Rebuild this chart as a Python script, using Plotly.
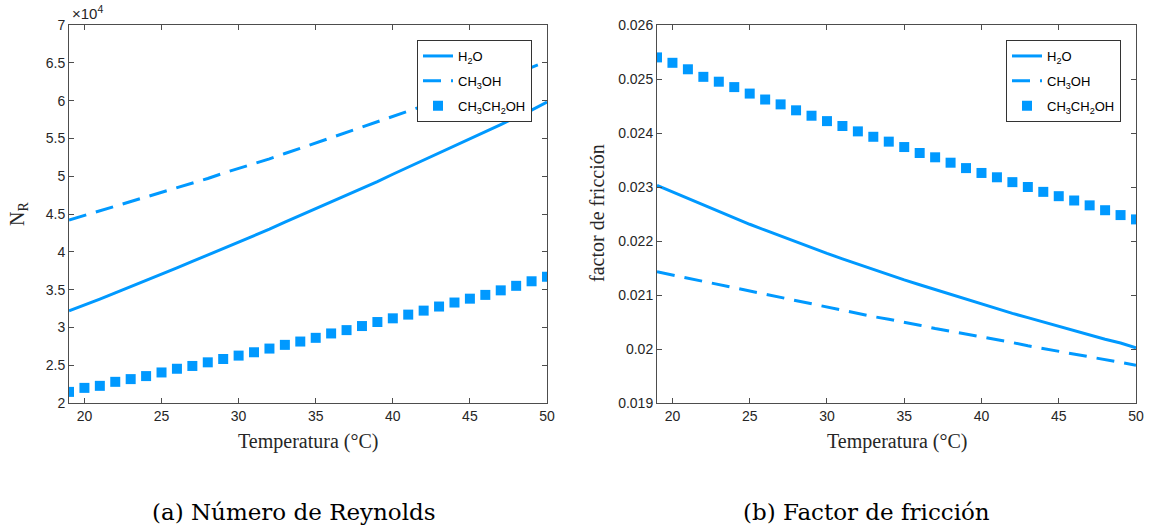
import plotly.graph_objects as go

# ---------------- data ----------------
temperatura = list(range(19, 51))

# Reynolds number (x 10^4)
re_h2o = [3.22, 3.294, 3.374, 3.456, 3.537, 3.618, 3.703, 3.788, 3.872, 3.956, 4.043,
          4.129, 4.213, 4.300, 4.392, 4.481, 4.568, 4.658, 4.745, 4.835, 4.929, 5.026,
          5.119, 5.208, 5.300, 5.395, 5.493, 5.586, 5.682, 5.781, 5.874, 5.980]
re_ch3oh = [4.42, 4.48, 4.54, 4.60, 4.66, 4.72, 4.78, 4.84, 4.91, 4.97, 5.04,
            5.10, 5.17, 5.23, 5.30, 5.37, 5.43, 5.50, 5.57, 5.64, 5.71, 5.78,
            5.85, 5.92, 6.00, 6.07, 6.14, 6.22, 6.29, 6.37, 6.44, 6.52]
re_c2h5oh = [2.147, 2.20, 2.227, 2.28, 2.316, 2.356, 2.404, 2.453, 2.49, 2.538, 2.582,
             2.627, 2.671, 2.72, 2.769, 2.813, 2.862, 2.92, 2.964, 3.018, 3.071, 3.12,
             3.169, 3.222, 3.276, 3.329, 3.38, 3.43, 3.49, 3.55, 3.61, 3.67]

# friction factor
f_h2o = [0.02303, 0.02291, 0.02279, 0.02266, 0.02255, 0.02243, 0.02231, 0.02220, 0.02209,
         0.02198, 0.02188, 0.02177, 0.02167, 0.02157, 0.02147, 0.02137, 0.02128, 0.02119,
         0.02110, 0.02101, 0.02092, 0.02083, 0.02074, 0.02066, 0.02058, 0.02050, 0.02041,
         0.02033, 0.02026, 0.02018, 0.02011, 0.02002]
f_ch3oh = [0.02143, 0.02137, 0.02131, 0.02125, 0.02119, 0.02113, 0.02107, 0.02101, 0.02095,
           0.02089, 0.02083, 0.02078, 0.02071, 0.02066, 0.02060, 0.02055, 0.02050, 0.02044,
           0.02038, 0.02033, 0.02027, 0.02022, 0.02017, 0.02012, 0.02006, 0.02001, 0.01996,
           0.01990, 0.01985, 0.01980, 0.01975, 0.01970]
f_c2h5oh = [0.02540, 0.02530, 0.02518, 0.02504, 0.02495, 0.02485, 0.02473, 0.02462, 0.02453,
            0.02442, 0.02432, 0.02422, 0.02413, 0.02403, 0.02393, 0.02384, 0.02374, 0.02363,
            0.02355, 0.02345, 0.02335, 0.02326, 0.02318, 0.02309, 0.02300, 0.02291, 0.02283,
            0.02275, 0.02266, 0.02257, 0.02248, 0.02240]

names = ["H<sub>2</sub>O", "CH<sub>3</sub>OH", "CH<sub>3</sub>CH<sub>2</sub>OH"]
x_ticks = [20, 25, 30, 35, 40, 45, 50]
y1_ticks = [2, 2.5, 3, 3.5, 4, 4.5, 5, 5.5, 6, 6.5, 7]
y1_labels = ["2", "2.5", "3", "3.5", "4", "4.5", "5", "5.5", "6", "6.5", "7"]
y2_ticks = [0.019, 0.020, 0.021, 0.022, 0.023, 0.024, 0.025, 0.026]
y2_labels = ["0.019", "0.02", "0.021", "0.022", "0.023", "0.024", "0.025", "0.026"]

# ---------------- style ----------------
W, H = 1153, 529
BLUE = "rgb(0,153,255)"
AX = "#4d4d4d"
TXT = "#262626"
SANS = "Liberation Sans, Arial, sans-serif"
SERIF = "Liberation Serif, Times New Roman, serif"
CAP = "DejaVu Serif, serif"

def px_x(p):
    return p / W

def px_y(p):
    return (H - p) / H

fig = go.Figure()

for (xa, ya, leg, s1, s2, s3) in [("x", "y", "legend", re_h2o, re_ch3oh, re_c2h5oh),
                                   ("x2", "y2", "legend2", f_h2o, f_ch3oh, f_c2h5oh)]:
    fig.add_trace(go.Scatter(x=temperatura, y=s1, mode="lines", name=names[0],
                             legendgroup=leg + "a",
                             line=dict(color=BLUE, width=3), xaxis=xa, yaxis=ya, legend=leg))
    fig.add_trace(go.Scatter(x=temperatura, y=s2, mode="lines", name=names[1],
                             legendgroup=leg + "b",
                             line=dict(color=BLUE, width=3, dash="18px,10px"),
                             xaxis=xa, yaxis=ya, legend=leg))
    fig.add_trace(go.Scatter(x=temperatura, y=s3, mode="markers", name=names[2],
                             legendgroup=leg + "c",
                             marker=dict(color=BLUE, size=10, symbol="square"),
                             xaxis=xa, yaxis=ya, legend=leg))

axis_common = dict(showline=True, linecolor=AX, linewidth=1, mirror="allticks",
                   ticks="inside", ticklen=5, tickcolor=AX, showgrid=False, zeroline=False,
                   automargin=False,
                   tickfont=dict(family=SANS, size=14, color=TXT))

legend_common = dict(font=dict(family=SANS, size=13, color="#000"), bgcolor="white",
                     bordercolor="#333", borderwidth=1, xanchor="right", yanchor="top",
                     tracegroupgap=5, itemwidth=30)

fig.update_layout(
    width=W, height=H,
    margin=dict(l=0, r=0, t=0, b=0, pad=0, autoexpand=False),
    paper_bgcolor="white", plot_bgcolor="white",
    xaxis=dict(domain=[px_x(69), px_x(547)], range=[19, 50], tickvals=x_ticks,
               anchor="y", **axis_common),
    yaxis=dict(domain=[px_y(403), px_y(25)], range=[2, 7], tickvals=y1_ticks,
               ticktext=y1_labels, anchor="x", **axis_common),
    xaxis2=dict(domain=[px_x(657), px_x(1136)], range=[19, 50], tickvals=x_ticks,
                anchor="y2", **axis_common),
    yaxis2=dict(domain=[px_y(403), px_y(25)], range=[0.019, 0.026], tickvals=y2_ticks,
                ticktext=y2_labels, anchor="x2", **axis_common),
    legend=dict(x=px_x(532), y=px_y(40), **legend_common),
    legend2=dict(x=px_x(1121), y=px_y(40), **legend_common),
    showlegend=True,
)

annotations = [
    dict(text="×10<sup>4</sup>", x=px_x(70), y=px_y(24), xanchor="left", yanchor="bottom",
         font=dict(family=SANS, size=15, color=TXT)),
    dict(text="N<sub>R</sub>", x=px_x(18), y=px_y(214), textangle=-90, xanchor="center",
         yanchor="middle", font=dict(family=SERIF, size=20, color=TXT)),
    dict(text="factor de fricción", x=px_x(597), y=px_y(213), textangle=-90,
         xanchor="center", yanchor="middle", font=dict(family=SERIF, size=20, color=TXT)),
    dict(text="Temperatura (°C)", x=px_x(308), y=px_y(441), xanchor="center",
         yanchor="middle", font=dict(family=SERIF, size=20, color=TXT)),
    dict(text="Temperatura (°C)", x=px_x(897), y=px_y(441), xanchor="center",
         yanchor="middle", font=dict(family=SERIF, size=20, color=TXT)),
    dict(text="(a) Número de Reynolds", x=px_x(294), y=px_y(512), xanchor="center",
         yanchor="middle", font=dict(family=CAP, size=23, color="#000")),
    dict(text="(b) Factor de fricción", x=px_x(866), y=px_y(512), xanchor="center",
         yanchor="middle", font=dict(family=CAP, size=23, color="#000")),
]
for a in annotations:
    a.update(xref="paper", yref="paper", showarrow=False)
fig.update_layout(annotations=annotations)

fig.write_html("out.html")
